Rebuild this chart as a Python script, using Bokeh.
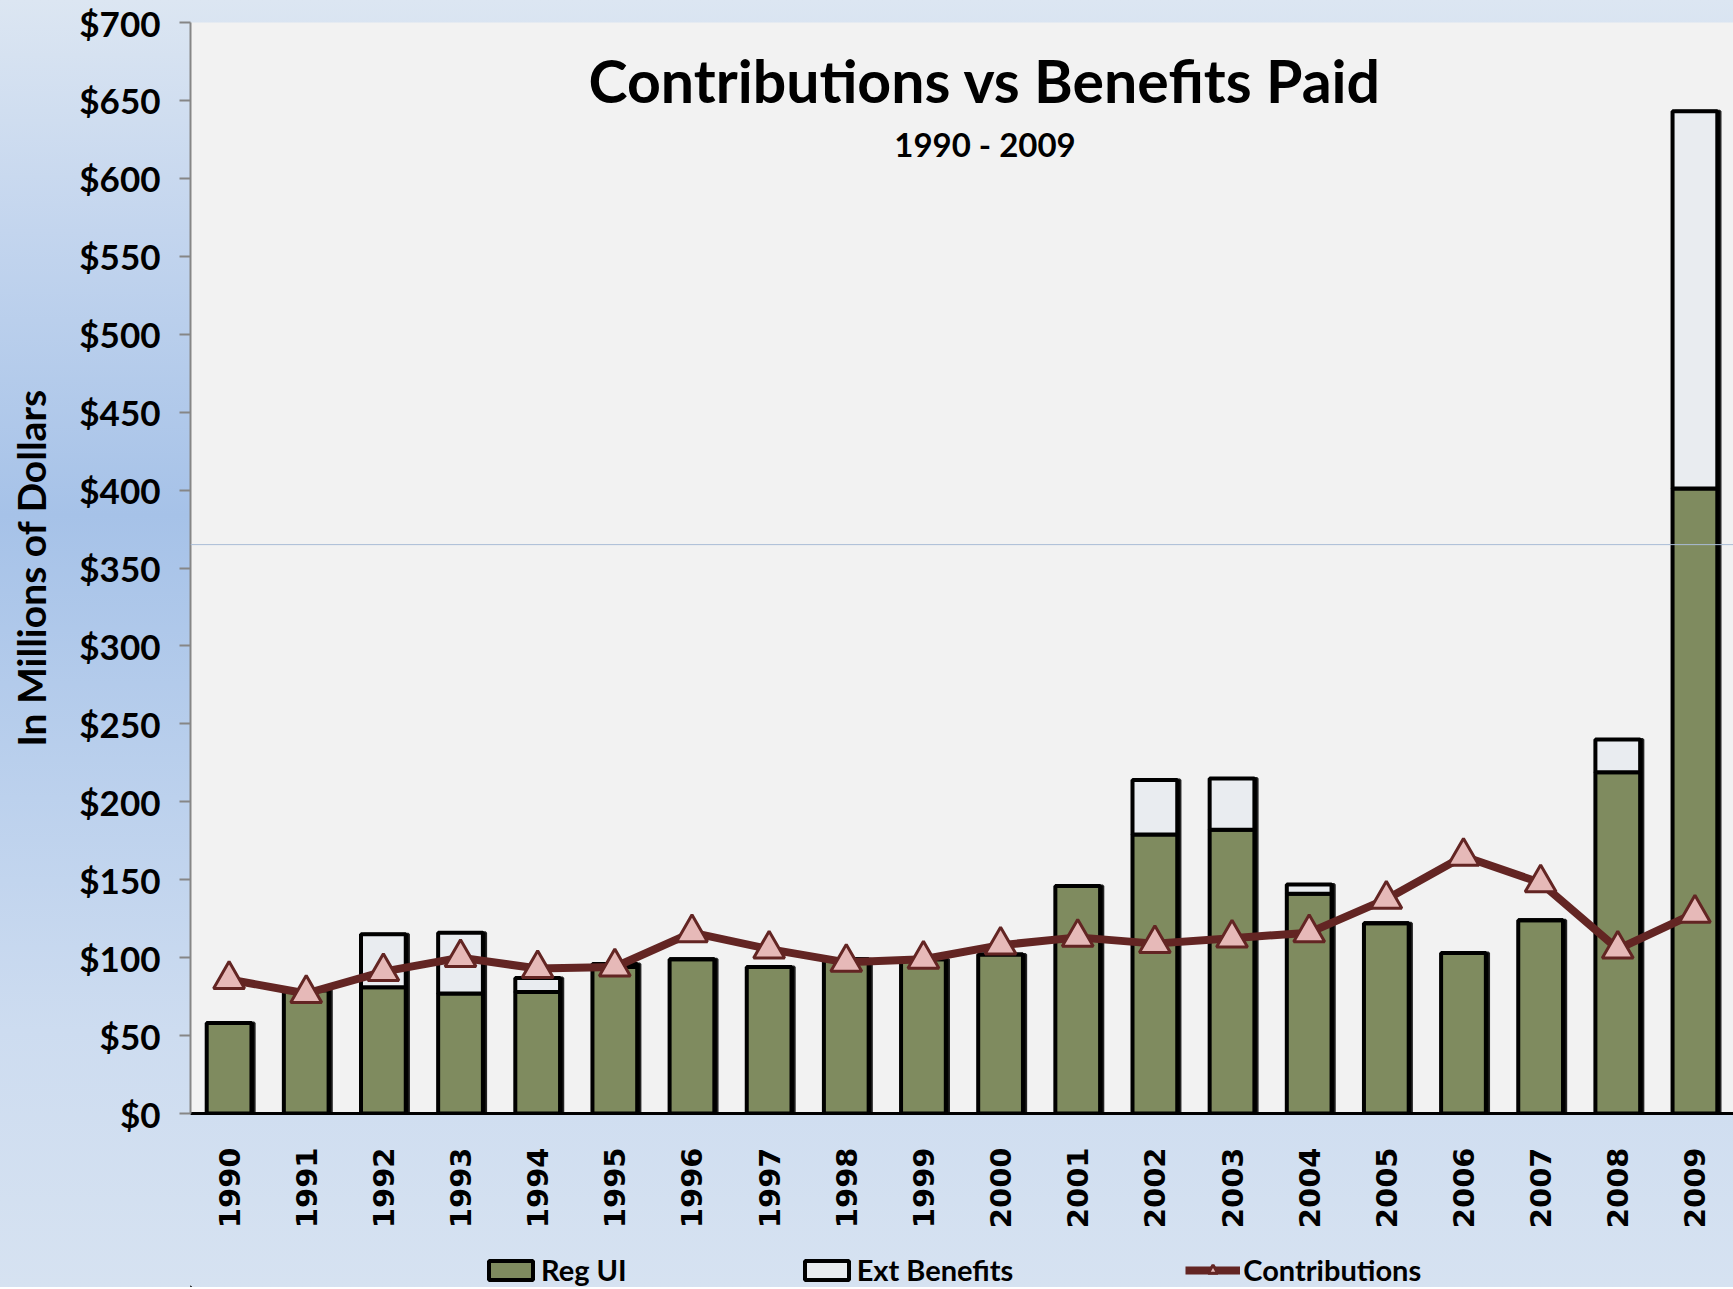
import math
from bokeh.plotting import figure
from bokeh.layouts import column
from bokeh.models import (FactorRange, Range1d, FixedTicker, NumeralTickFormatter,
                          Legend, LegendItem, Label, Span, ColumnDataSource)
from bokeh.transform import dodge
from bokeh.embed import file_html
from bokeh.resources import INLINE

# ---- data ----
years = [str(y) for y in range(1990, 2010)]
reg_ui = [58, 79, 81, 77, 78, 94, 99, 94, 99, 99,
          102, 146, 179, 182, 141, 122, 103, 124, 219, 401]
ext_benefits = [0, 0, 34, 39, 9, 2, 0, 0, 0, 0,
                0, 0, 35, 33, 6, 0, 0, 0, 21, 242]
contributions = [86, 77, 91, 100, 93, 94, 116, 105.5, 97, 99,
                 108, 113, 109, 112.5, 116, 137.5, 165, 148, 105.5, 128.5]
y_ticks = list(range(0, 701, 50))
ref_line_value = 365

GREEN = "#7f8b5f"
EXT = "#e9ecf0"
MAROON = "#632523"
PINK = "#e6b9b8"
FONT = "Lato"

total = [r + e for r, e in zip(reg_ui, ext_benefits)]
src = ColumnDataSource(dict(year=years, reg=reg_ui, ext=ext_benefits,
                            total=total, contrib=contributions))

p = figure(frame_width=1543, frame_height=1091, output_backend="svg", toolbar_location=None,
           x_range=FactorRange(*years, range_padding=0), y_range=Range1d(0, 700),
           min_border_left=190, min_border_right=0, min_border_top=22, min_border_bottom=126)

p.background_fill_color = "#f2f2f2"
p.border_fill_color = None
p.outline_line_color = None
p.xgrid.grid_line_color = None
p.ygrid.grid_line_color = None

# soft drop shadow on the right side of each bar
p.vbar(x=dodge("year", 0.035, range=p.x_range), top="total", width=0.58, source=src,
       fill_color="black", line_color="black", line_width=3, fill_alpha=0.85, line_alpha=0.85)

bars = p.vbar_stack(["reg", "ext"], x="year", width=0.58, source=src,
                    fill_color=[GREEN, EXT], line_color="black", line_width=4)

p.add_layout(Span(location=ref_line_value, dimension="width", line_color="#a9bcd6", line_width=1))

ln = p.line(x="year", y="contrib", source=src, line_color=MAROON, line_width=8)
mk = p.scatter(x="year", y="contrib", source=src, marker="triangle", size=31,
               fill_color=PINK, line_color=MAROON, line_width=3)

# y axis
ya = p.yaxis[0]
ya.ticker = FixedTicker(ticks=y_ticks)
ya.formatter = NumeralTickFormatter(format="$0")
ya.major_label_text_font = FONT
ya.major_label_text_font_style = "bold"
ya.major_label_text_font_size = "35px"
ya.major_label_text_color = "black"
ya.axis_line_color = "#868686"
ya.axis_line_width = 2
ya.major_tick_line_color = "#868686"
ya.major_tick_line_width = 2
ya.major_tick_out = 11
ya.major_tick_in = 0
ya.minor_tick_line_color = None
ya.major_label_standoff = 19
ya.axis_label = "In Millions of Dollars"
ya.axis_label_text_font = FONT
ya.axis_label_text_font_style = "bold"
ya.axis_label_text_font_size = "39px"
ya.axis_label_text_color = "black"
ya.axis_label_standoff = 22

# x axis
xa = p.xaxis[0]
xa.major_label_orientation = math.pi / 2
xa.major_label_text_font = "DejaVu Sans"
xa.major_label_text_font_style = "bold"
xa.major_label_text_font_size = "29px"
xa.major_label_text_color = "black"
xa.axis_line_color = "black"
xa.axis_line_width = 3
xa.major_tick_line_color = None
xa.major_tick_out = 0
xa.minor_tick_line_color = None
xa.major_label_standoff = 34

# title and subtitle inside the frame
p.add_layout(Label(x=10, y=663, x_offset=23, text="Contributions vs Benefits Paid",
                   text_align="center", text_baseline="middle", text_font=FONT,
                   text_font_style="bold", text_font_size="59px", text_color="black"))
p.add_layout(Label(x=10, y=622, x_offset=23, text="1990 - 2009",
                   text_align="center", text_baseline="middle", text_font=FONT,
                   text_font_style="bold", text_font_size="33px", text_color="black"))

# legend strip below the chart (its keys sit outside its visible ranges)
lg = figure(width=1733, height=48, output_backend="svg", toolbar_location=None,
            x_range=Range1d(0, 1), y_range=Range1d(0, 1),
            x_axis_type=None, y_axis_type=None,
            min_border_left=0, min_border_right=0, min_border_top=0, min_border_bottom=0)
lg.grid.visible = False
lg.outline_line_color = None
lg.background_fill_color = None
lg.border_fill_color = None
k_reg = lg.vbar(x=[-5], top=[-5], width=0.1, fill_color=GREEN, line_color="black", line_width=4)
k_ext = lg.vbar(x=[-5], top=[-5], width=0.1, fill_color=EXT, line_color="black", line_width=4)
k_ln = lg.line(x=[-5, -4], y=[-5, -5], line_color=MAROON, line_width=8)
k_mk = lg.scatter(x=[-5], y=[-5], marker="triangle", size=26, fill_color=PINK,
                  line_color=MAROON, line_width=3)

legend = Legend(items=[LegendItem(label="Reg UI", renderers=[k_reg]),
                       LegendItem(label="Ext Benefits", renderers=[k_ext]),
                       LegendItem(label="Contributions", renderers=[k_ln, k_mk])],
                orientation="horizontal", location=(293, 0), spacing=172,
                glyph_width=55, glyph_height=24, label_standoff=3,
                label_text_font=FONT, label_text_font_style="bold",
                label_text_font_size="29px", label_text_color="black",
                background_fill_alpha=0, border_line_alpha=0, padding=0, margin=0)
lg.add_layout(legend, "center")

page = column(p, lg, spacing=0)
page.styles = {"background": "linear-gradient(180deg, #dce6f2 0%, #c3d5ee 18%, #a6c2e8 40%, #bcd1ed 62%, #cddcf0 80%, #d6e2f1 100%)"}

open("out.html", "w").write(file_html(page, INLINE))
